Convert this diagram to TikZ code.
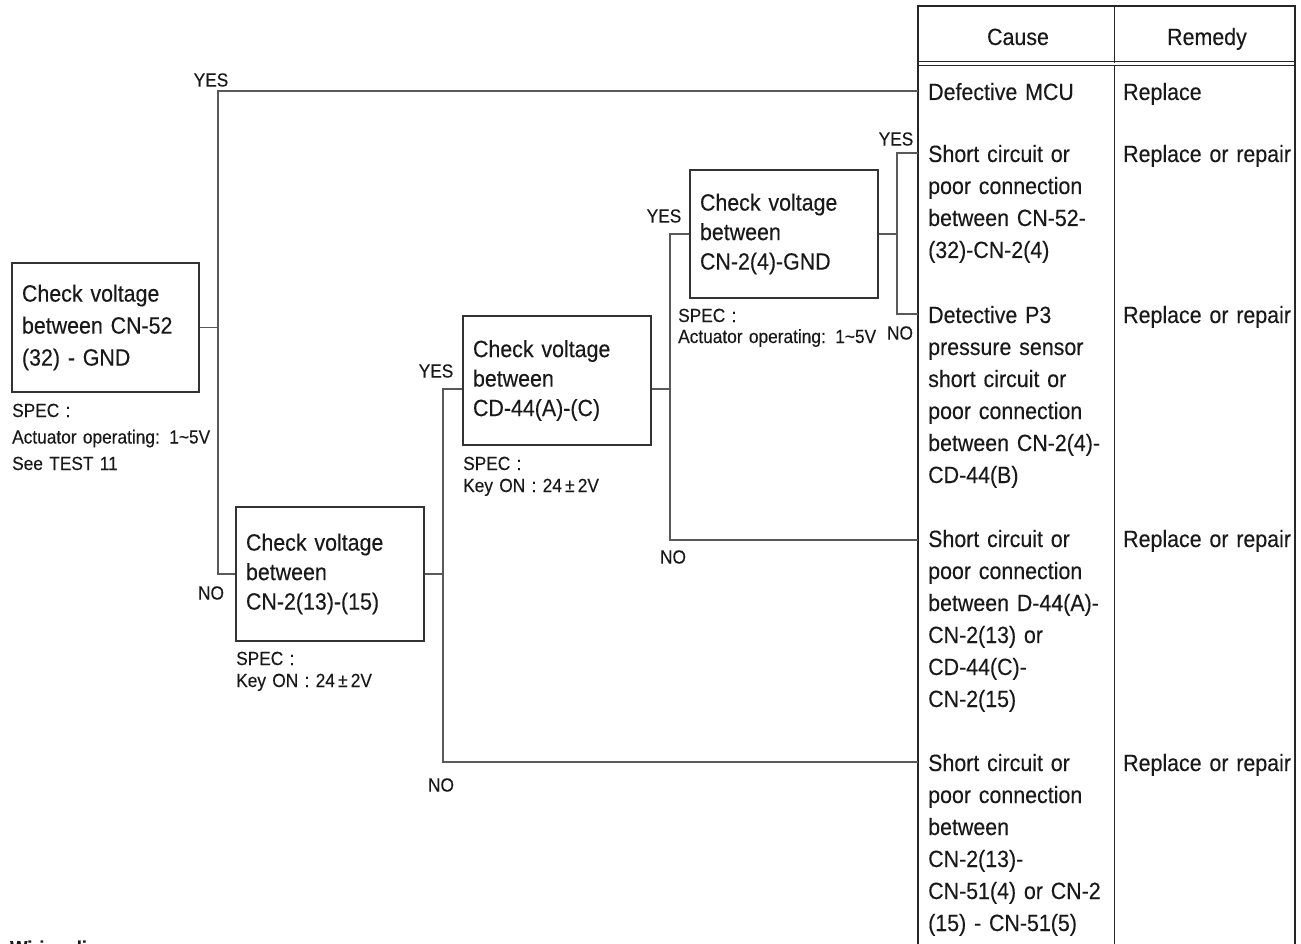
\documentclass[tikz,border=0pt]{standalone}
\usepackage{fontspec}
\setmainfont[FakeStretch=0.91,WordSpace=0.8,FakeBold=0.25]{Liberation Sans}
\begin{document}
\begin{tikzpicture}[x=1pt,y=-1pt,
  chk/.style={draw=black!80, line width=1.3pt, inner xsep=10pt, inner ysep=0pt, align=left, font=\fontsize{23.5}{29.5}\selectfont, text=black!90},
  conn/.style={draw=black!65, line width=1.2pt},
  yn/.style={font=\fontsize{19}{20}\selectfont, inner sep=0pt, text=black!90},
  note/.style={font=\fontsize{19}{22}\selectfont, inner sep=0pt, anchor=base west, align=left, text width=240pt, text=black!90},
  cell/.style={font=\fontsize{23.5}{32}\selectfont, inner sep=0pt, anchor=base west, align=left, text width=185pt, text=black!90},
  hd/.style={font=\fontsize{23.5}{26}\selectfont, inner sep=0pt, anchor=base, text=black!90},
  tblthick/.style={draw=black!85, line width=2pt},
  tblthin/.style={draw=black!85, line width=1pt}
]
\useasboundingbox (0,0) rectangle (1301,944);
\clip (0,0) rectangle (1301,944);

% table frame
\draw[tblthick] (918,944) -- (918,6) -- (1295,6) -- (1295,944);
\draw[tblthin] (1114,6) -- (1114,944);
\draw[tblthin] (918,62) -- (1295,62);
\draw[tblthin] (918,66) -- (1295,66);
\fill[white] (1110,62.6) rectangle (1118,65.4);

% header
\node[hd] (hcause) at (1018,45) {Cause};
\node[hd] (hremedy) at (1207,45) {Remedy};

% cause cells
\node[cell] (c1) at (928,100) {Defective MCU};
\node[cell] (c2) at (928,162) {Short circuit or\\poor connection\\between CN-52-\\(32)-CN-2(4)};
\node[cell] (c3) at (928,323) {Detective P3\\pressure sensor\\short circuit or\\poor connection\\between CN-2(4)-\\CD-44(B)};
\node[cell] (c4) at (928,547) {Short circuit or\\poor connection\\between D-44(A)-\\CN-2(13) or\\CD-44(C)-\\CN-2(15)};
\node[cell] (c5) at (928,771) {Short circuit or\\poor connection\\between\\CN-2(13)-\\CN-51(4) or CN-2\\(15) - CN-51(5)};

% remedy cells
\node[cell, text width=170pt] (r1) at (1123,100) {Replace};
\node[cell, text width=170pt] (r2) at (1123,162) {Replace or repair};
\node[cell, text width=170pt] (r3) at (1123,323) {Replace or repair};
\node[cell, text width=170pt] (r4) at (1123,547) {Replace or repair};
\node[cell, text width=170pt] (r5) at (1123,771) {Replace or repair};

% check boxes
\node[chk, minimum width=187pt, minimum height=129pt, text width=167pt, font=\fontsize{23.5}{32}\selectfont] (b1) at (105.5,327.5) {Check voltage\\between CN-52\\(32) - GND};
\node[chk, minimum width=188pt, minimum height=134pt, text width=168pt] (b2) at (330,574) {Check voltage\\between\\CN-2(13)-(15)};
\node[chk, minimum width=188pt, minimum height=129pt, text width=168pt] (b3) at (557,380.5) {Check voltage\\between\\CD-44(A)-(C)};
\node[chk, minimum width=188pt, minimum height=128pt, text width=168pt] (b4) at (784,234) {Check voltage\\between\\CN-2(4)-GND};

% spec notes
\node[note, font=\fontsize{19}{26.5}\selectfont] (n1) at (12,417) {SPEC :\\Actuator operating: 1\textasciitilde 5V\\See TEST 11};
\node[note] (n2) at (236,665) {SPEC :\\Key ON : 24\,±\,2V};
\node[note] (n3) at (463,470) {SPEC :\\Key ON : 24\,±\,2V};
\node[note, font=\fontsize{19}{21}\selectfont] (n4) at (678,322) {SPEC :\\Actuator operating: 1\textasciitilde 5V};

% junction coordinates
\coordinate (t1top) at (218,91);
\coordinate (t1bot) at (218,574);
\coordinate (e1) at (918,91);
\coordinate (t2top) at (443,389);
\coordinate (t2bot) at (443,762);
\coordinate (e5) at (918,762);
\coordinate (t3top) at (670,234);
\coordinate (t3mid) at (670,389);
\coordinate (t3bot) at (670,540);
\coordinate (e4) at (918,540);
\coordinate (t4top) at (897,153);
\coordinate (t4bot) at (897,314);
\coordinate (e2) at (918,153);
\coordinate (e3) at (918,314);

% connectors
\draw[conn] (b1.east) -- (b1.east -| t1top);
\draw[conn] (e1) -- (t1top) -- (t1bot) -- (b2.west);
\draw[conn] (b2.east) -- (b2.east -| t2top);
\draw[conn] (t2top -| b3.west) -- (t2top) -- (t2bot) -- (e5);
\draw[conn] (t3mid -| b3.east) -- (t3mid);
\draw[conn] (b4.west) -- (t3top) -- (t3bot) -- (e4);
\draw[conn] (b4.east) -- (b4.east -| t4top);
\draw[conn] (e2) -- (t4top) -- (t4bot) -- (e3);

% yes / no labels
\node[yn] (y1) at (211,80) {YES};
\node[yn] (no1) at (211,593) {NO};
\node[yn] (y2) at (436,371) {YES};
\node[yn] (no2) at (441,785) {NO};
\node[yn] (y3) at (664,216) {YES};
\node[yn] (no3) at (673,557) {NO};
\node[yn] (y4) at (896,139) {YES};
\node[yn] (no4) at (900,333) {NO};

% cut-off title at the bottom
\node[font=\bfseries\fontsize{20}{24}\selectfont, anchor=base west, inner sep=0pt, text=black!90] (wd) at (10,955) {Wiring diagram};
\end{tikzpicture}
\end{document}
